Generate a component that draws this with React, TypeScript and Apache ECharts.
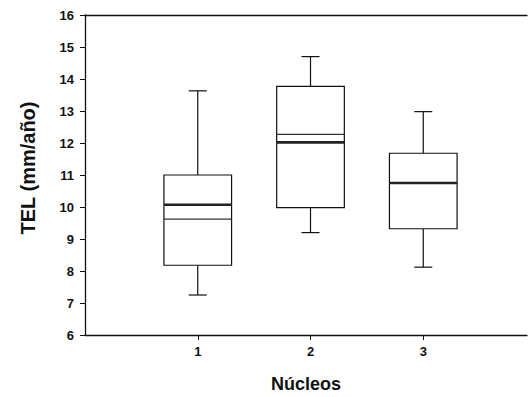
import React, { useEffect, useRef } from "react";
import * as echarts from "echarts";

const groupIndex = [1, 2, 3];
const groupLabels = ["1", "2", "3"];
const whiskerLow = [7.25, 9.2, 8.12];
const q1 = [8.18, 9.98, 9.32];
const median = [9.62, 12.27, 10.74];
const q3 = [11.0, 13.77, 11.68];
const whiskerHigh = [13.63, 14.7, 12.98];
const mean = [10.07, 12.02, 10.75];
const yTicks = { min: 6, max: 16, interval: 1 };
const xRange = { min: 0, max: 3.92 };

const FONT = "'Liberation Sans', Arial, Helvetica, sans-serif";

export default function App() {
  const ref = useRef<HTMLDivElement>(null);
  useEffect(() => {
    if (!ref.current) return;
    const chart = echarts.init(ref.current, null, { renderer: "svg" });
    const data = groupIndex.map((g, i) => [
      g,
      whiskerLow[i],
      q1[i],
      median[i],
      q3[i],
      whiskerHigh[i],
      mean[i],
    ]);
    const stroke = "#111";
    chart.setOption({
      animation: false,
      grid: {
        left: 85,
        top: 15,
        bottom: 62,
        width: 442,
        show: false,
        containLabel: false,
        outerBoundsMode: "none",
      },
      xAxis: [
        {
          type: "value",
          min: xRange.min,
          max: xRange.max,
          interval: 1,
          name: "Núcleos",
          nameLocation: "middle",
          nameGap: 40,
          nameTextStyle: { fontFamily: FONT, fontWeight: "bold", fontSize: 18, color: "#111" },
          axisLine: { show: true, onZero: false, lineStyle: { color: "#111", width: 1.3 } },
          axisTick: {
            show: true,
            length: 5,
            customValues: groupIndex,
            lineStyle: { color: "#111" },
          },
          axisLabel: {
            customValues: groupIndex,
            formatter: (v: number) => groupLabels[groupIndex.indexOf(Math.round(v))] ?? "",
            margin: 10,
            fontFamily: FONT,
            fontWeight: "bold",
            fontSize: 13,
            color: "#111",
          },
          splitLine: { show: false },
        },
        {
          type: "value",
          min: xRange.min,
          max: xRange.max,
          position: "top",
          axisLine: { show: true, onZero: false, lineStyle: { color: "#111", width: 1.3 } },
          axisTick: { show: false },
          axisLabel: { show: false },
          splitLine: { show: false },
        },
      ],
      yAxis: {
        type: "value",
        min: yTicks.min,
        max: yTicks.max,
        interval: yTicks.interval,
        name: "TEL (mm/año)",
        nameLocation: "middle",
        nameGap: 47,
        nameTextStyle: {
          fontFamily: FONT,
          fontWeight: "bold",
          fontSize: 20,
          color: "#111",
          padding: [0, 0, 0, 14],
        },
        axisLine: { show: true, onZero: false, lineStyle: { color: "#111", width: 1.3 } },
        axisTick: { show: true, length: 5, lineStyle: { color: "#111" } },
        axisLabel: {
          margin: 11,
          fontFamily: FONT,
          fontWeight: "bold",
          fontSize: 13,
          color: "#111",
        },
        splitLine: { show: false },
      },
      series: [
        {
          type: "custom",
          data,
          xAxisIndex: 0,
          encode: { x: 0, y: [1, 2, 3, 4, 5, 6] },
          renderItem: (params: any, api: any) => {
            const x = api.value(0);
            const c = api.coord([x, api.value(1)])[0];
            const unit = api.coord([2, 10])[0] - api.coord([1, 10])[0];
            const hb = unit * 0.3;
            const hc = unit * 0.08;
            const y = (k: number) => api.coord([x, api.value(k)])[1];
            const yLow = y(1), yQ1 = y(2), yMed = y(3), yQ3 = y(4), yHigh = y(5), yMean = y(6);
            const ls = { stroke, lineWidth: 1.2 };
            return {
              type: "group",
              children: [
                { type: "line", shape: { x1: c, y1: yHigh, x2: c, y2: yQ3 }, style: ls },
                { type: "line", shape: { x1: c - hc, y1: yHigh, x2: c + hc, y2: yHigh }, style: ls },
                { type: "line", shape: { x1: c, y1: yLow, x2: c, y2: yQ1 }, style: ls },
                { type: "line", shape: { x1: c - hc, y1: yLow, x2: c + hc, y2: yLow }, style: ls },
                {
                  type: "rect",
                  shape: { x: c - hb, y: yQ3, width: 2 * hb, height: yQ1 - yQ3 },
                  style: { fill: "#fff", stroke, lineWidth: 1.2 },
                },
                { type: "line", shape: { x1: c - hb, y1: yMed, x2: c + hb, y2: yMed }, style: { stroke: "#333", lineWidth: 1.2 } },
                { type: "line", shape: { x1: c - hb, y1: yMean, x2: c + hb, y2: yMean }, style: { stroke: "#222", lineWidth: 2.6 } },
              ],
            };
          },
        },
      ],
    });
    return () => chart.dispose();
  }, []);
  return (
    <div style={{ width: 528, height: 397, position: "absolute", left: 0, top: 0, overflow: "hidden", background: "#fff" }}>
      <div ref={ref} style={{ width: 528, height: 397 }} />
    </div>
  );
}
